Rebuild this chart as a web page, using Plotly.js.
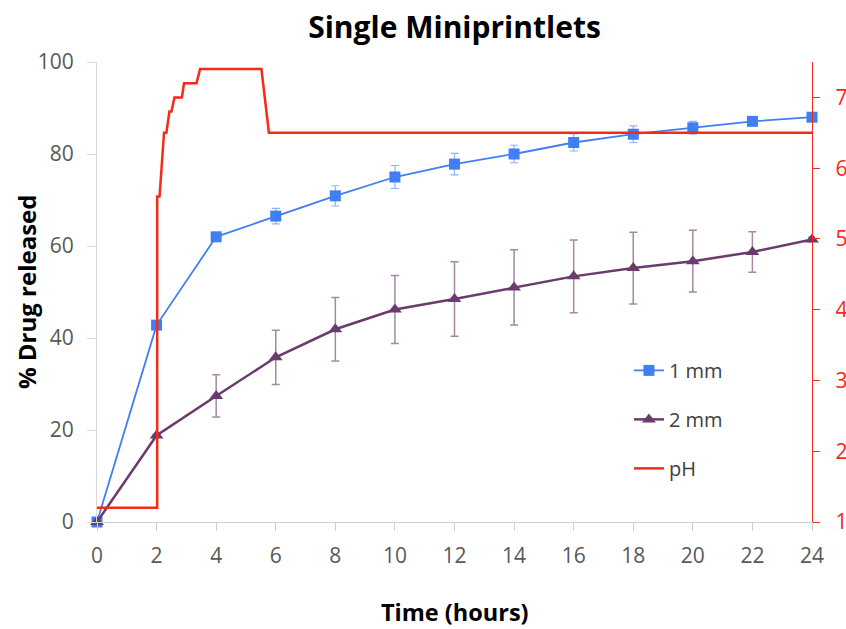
<!DOCTYPE html>
<html>
<head>
<meta charset="utf-8">
<script src="https://cdn.plot.ly/plotly-3.0.1.min.js"></script>
<style>html,body{margin:0;padding:0;background:#fff;}#chart{width:846px;height:629px;}</style>
</head>
<body>
<div id="chart"></div>
<script>
const timeHours = [0, 2, 4, 6, 8, 10, 12, 14, 16, 18, 20, 22, 24];
const release1mm = [0, 42.8, 62.0, 66.5, 70.9, 75.0, 77.8, 80.0, 82.5, 84.3, 85.7, 87.1, 88.0];
const err1mm = [0, 0.3, 0.5, 1.7, 2.2, 2.5, 2.35, 1.9, 1.85, 1.8, 1.4, 0.3, 0.2];
const release2mm = [0, 18.8, 27.4, 35.8, 41.9, 46.2, 48.5, 51.0, 53.4, 55.2, 56.7, 58.7, 61.4];
const err2mm = [0, 0.3, 4.6, 5.9, 6.9, 7.4, 8.1, 8.2, 7.9, 7.8, 6.7, 4.4, 0.5];
const phTime = [0, 2.02, 2.02, 2.1, 2.25, 2.33, 2.43, 2.5, 2.6, 2.7, 2.85, 2.92, 3.34, 3.46, 5.52, 5.77, 24];
const phValue = [1.2, 1.2, 5.6, 5.6, 6.5, 6.5, 6.8, 6.8, 7.0, 7.0, 7.0, 7.2, 7.2, 7.4, 7.4, 6.5, 6.5];
const xTicks = [0, 2, 4, 6, 8, 10, 12, 14, 16, 18, 20, 22, 24];
const yTicks = [0, 20, 40, 60, 80, 100];
const phTicks = [1, 2, 3, 4, 5, 6, 7];

const FONT = "Open Sans, Lato, sans-serif";

const traces = [
  {
    x: timeHours, y: release1mm, name: "1 mm", type: "scatter", mode: "lines+markers",
    legendgroup: "a",
    line: {color: "#3f7ff3", width: 1.8},
    marker: {symbol: "square", size: 11, color: "#3f7ff3"},
    error_y: {type: "data", array: err1mm, visible: true, color: "#8fb4f2", thickness: 1.2, width: 4},
    cliponaxis: false
  },
  {
    x: timeHours, y: release2mm, name: "2 mm", type: "scatter", mode: "lines+markers",
    legendgroup: "b",
    line: {color: "#6a3b6c", width: 2.5},
    marker: {symbol: "triangle-up", size: 12, color: "#6a3b6c"},
    error_y: {type: "data", array: err2mm, visible: true, color: "#a488a6", thickness: 1.5, width: 4},
    cliponaxis: false
  },
  {
    x: phTime, y: phValue, name: "pH", type: "scatter", mode: "lines", yaxis: "y2",
    legendgroup: "c",
    line: {color: "#f52a17", width: 2.5},
    cliponaxis: false
  }
];

const layout = {
  width: 846, height: 629,
  paper_bgcolor: "#fff", plot_bgcolor: "#fff",
  margin: {l: 97, r: 34, t: 62, b: 107},
  font: {family: FONT, color: "#595959", size: 21},
  title: {text: "<b>Single Miniprintlets</b>", x: 0.5, xref: "paper", xanchor: "center",
          y: 0.957, yref: "container", yanchor: "middle",
          font: {family: FONT, size: 30, color: "#000"}},
  xaxis: {
    range: [0, 24], tickvals: xTicks, ticktext: xTicks.map(String),
    showgrid: false, zeroline: false, showline: true, linecolor: "#cfcfcf", linewidth: 1,
    ticks: "outside", ticklen: 8, tickcolor: "#cfcfcf", ticklabelstandoff: 7,
    tickfont: {family: FONT, size: 21, color: "#595959"}
  },
  yaxis: {
    range: [0, 100], tickvals: yTicks, ticktext: yTicks.map(String),
    showgrid: false, zeroline: false, showline: true, linecolor: "#d9d9d9", linewidth: 1,
    ticks: "outside", ticklen: 9, tickcolor: "#d9d9d9", ticklabelstandoff: 9,
    tickfont: {family: FONT, size: 21, color: "#595959"}
  },
  yaxis2: {
    range: [1, 7.5], tickvals: phTicks, ticktext: phTicks.map(String), overlaying: "y", side: "right",
    showgrid: false, zeroline: false, showline: true, linecolor: "#f52a17", linewidth: 1.2,
    ticks: "outside", ticklen: 7, tickcolor: "#f52a17", ticklabelstandoff: 11,
    tickfont: {family: FONT, size: 21, color: "#f52a17"}
  },
  annotations: [
    {
      text: "<b>% Drug released</b>", xref: "paper", yref: "paper",
      x: -0.0993, y: 0.5, xanchor: "center", yanchor: "middle", textangle: -90,
      showarrow: false, font: {family: FONT, size: 24, color: "#000"}
    },
    {
      text: "<b>Time (hours)</b>", xref: "paper", yref: "paper",
      x: 0.5, y: -0.1957, xanchor: "center", yanchor: "middle",
      showarrow: false, font: {family: FONT, size: 23.5, color: "#000"}
    }
  ],
  legend: {
    x: 0.744, y: 0.372, xanchor: "left", yanchor: "top",
    bgcolor: "rgba(0,0,0,0)", traceorder: "grouped", tracegroupgap: 20,
    font: {family: FONT, size: 20, color: "#404040"}, itemwidth: 30
  },
  showlegend: true
};

Plotly.newPlot("chart", traces, layout, {displayModeBar: false, staticPlot: true});
</script>
</body>
</html>
